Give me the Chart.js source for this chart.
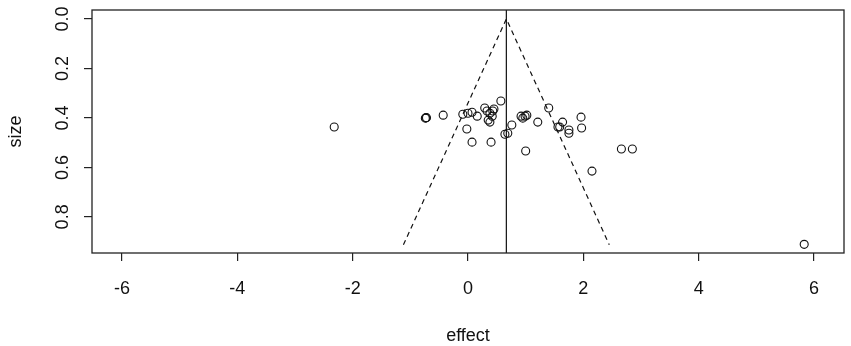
<!DOCTYPE html>
<html>
<head>
<meta charset="utf-8">
<script src="https://cdn.jsdelivr.net/npm/chart.js@4"></script>
<style>
  html, body { margin: 0; padding: 0; background: #fff; }
  #wrap { width: 851px; height: 346px; }
</style>
</head>
<body>
<div id="wrap"><canvas id="funnel" width="851" height="346"></canvas></div>
<script>
// study effects and sizes
const effects = [-2.32, -0.73, -0.74, -0.72, -0.43, -0.09, 0.0, 0.07, 0.16, -0.02, 0.07,
  0.29, 0.33, 0.38, 0.43, 0.45, 0.42, 0.35, 0.38, 0.57, 0.40, 0.64, 0.69, 0.76,
  0.92, 0.95, 0.99, 1.02, 1.00, 1.21, 1.40, 1.56, 1.59, 1.64, 1.75, 1.75,
  1.96, 1.97, 2.15, 2.66, 2.85, 5.83];
const sizes = [0.437, 0.400, 0.401, 0.399, 0.389, 0.385, 0.381, 0.377, 0.393, 0.445, 0.498,
  0.360, 0.372, 0.381, 0.372, 0.364, 0.393, 0.409, 0.417, 0.332, 0.498, 0.466, 0.462, 0.429,
  0.393, 0.401, 0.393, 0.389, 0.534, 0.417, 0.360, 0.437, 0.437, 0.417, 0.449, 0.462,
  0.397, 0.441, 0.615, 0.526, 0.526, 0.911];

// pooled effect and funnel limits
const pooled = 0.665;
const funnelX = [-1.12, 0.665, 2.45];
const funnelY = [0.913, 0, 0.913];

const xTicks = [-6, -4, -2, 0, 2, 4, 6];
const yTicks = [0, 0.2, 0.4, 0.6, 0.8];
const xRange = [-6.52, 6.52];
const yRange = [-0.036, 0.946];

const FONT = '"Liberation Sans", Arial, sans-serif';

const rBox = {
  id: 'rBox',
  afterDraw(chart) {
    const { ctx, chartArea: a, scales } = chart;
    ctx.save();
    ctx.strokeStyle = '#222';
    ctx.lineWidth = 1.3;
    ctx.strokeRect(a.left, a.top, a.right - a.left, a.bottom - a.top);

    ctx.fillStyle = '#111';
    ctx.font = '18px ' + FONT;
    ctx.textAlign = 'center';
    ctx.textBaseline = 'alphabetic';
    xTicks.forEach(v => {
      ctx.fillText(String(v), scales.x.getPixelForValue(v), 294);
    });
    ctx.fillText('effect', (a.left + a.right) / 2, 341);

    yTicks.forEach(v => {
      ctx.save();
      ctx.translate(68, scales.y.getPixelForValue(v));
      ctx.rotate(-Math.PI / 2);
      ctx.fillText(v.toFixed(1), 0, 0);
      ctx.restore();
    });
    ctx.save();
    ctx.translate(21, (a.top + a.bottom) / 2);
    ctx.rotate(-Math.PI / 2);
    ctx.fillText('size', 0, 0);
    ctx.restore();
    ctx.restore();
  }
};

new Chart(document.getElementById('funnel'), {
  type: 'scatter',
  data: {
    datasets: [
      {
        label: 'studies',
        data: effects.map((e, i) => ({ x: e, y: sizes[i] })),
        pointStyle: 'circle',
        pointRadius: 4,
        pointBorderWidth: 1.1,
        pointBorderColor: '#111',
        pointBackgroundColor: 'rgba(0,0,0,0)',
        showLine: false
      },
      {
        label: 'funnel',
        data: funnelX.map((x, i) => ({ x, y: funnelY[i] })),
        showLine: true,
        borderColor: '#111',
        borderWidth: 1.2,
        borderDash: [5, 4],
        pointRadius: 0,
        fill: false
      },
      {
        label: 'pooled',
        data: [{ x: pooled, y: yRange[0] }, { x: pooled, y: yRange[1] }],
        showLine: true,
        borderColor: '#111',
        borderWidth: 1.2,
        pointRadius: 0,
        fill: false
      }
    ]
  },
  options: {
    responsive: false,
    animation: false,
    layout: { padding: { top: 10, right: 7, left: 0, bottom: 0 } },
    plugins: { legend: { display: false }, tooltip: { enabled: false } },
    scales: {
      x: {
        type: 'linear',
        min: xRange[0],
        max: xRange[1],
        afterBuildTicks: s => { s.ticks = xTicks.map(v => ({ value: v })); },
        afterFit: s => { s.height = 93; },
        ticks: { display: false },
        border: { display: false },
        grid: { drawOnChartArea: false, drawTicks: true, tickLength: 8, color: '#222', lineWidth: 1.2 }
      },
      y: {
        type: 'linear',
        reverse: true,
        min: yRange[0],
        max: yRange[1],
        afterBuildTicks: s => { s.ticks = yTicks.map(v => ({ value: v })); },
        afterFit: s => { s.width = 92; },
        ticks: { display: false },
        border: { display: false },
        grid: { drawOnChartArea: false, drawTicks: true, tickLength: 8, color: '#222', lineWidth: 1.2 }
      }
    }
  },
  plugins: [rBox]
});
</script>
</body>
</html>
